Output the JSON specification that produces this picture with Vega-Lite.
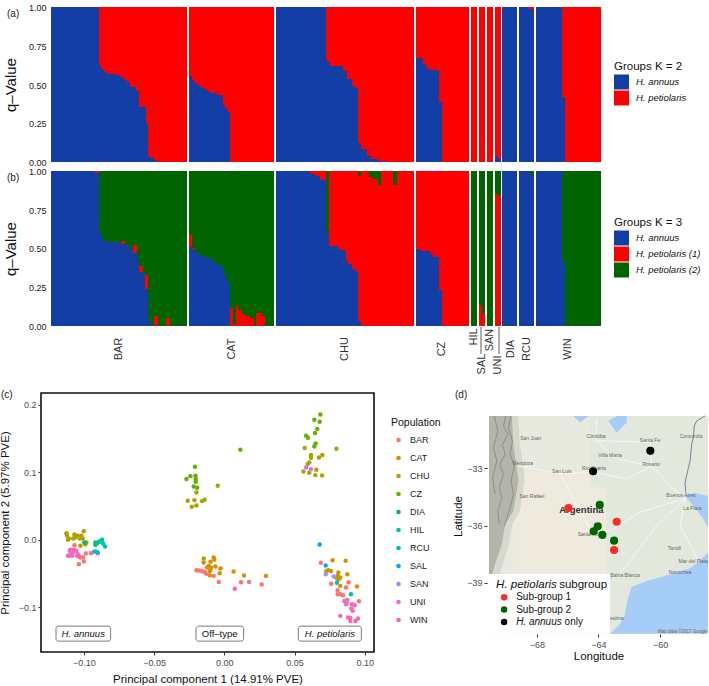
{
"$schema":"https://vega.github.io/schema/vega-lite/v6.json",
"padding":{"left":-2,"top":3,"right":0,"bottom":0},
"bounds":"flush",
"spacing":9,
"resolve":{"scale":{"color":"independent"},"legend":{"color":"independent"}},
"config":{"font":"Liberation Sans","view":{"stroke":null},"axis":{"grid":false,"domain":false,"labelOverlap":false,"labelFont":"Liberation Sans","titleFont":"Liberation Sans","titleFontWeight":"normal"},"legend":{"labelFont":"Liberation Sans","titleFont":"Liberation Sans","titleFontWeight":"normal"},"title":{"font":"Liberation Sans","fontWeight":"normal"},"text":{"font":"Liberation Sans"}},
"datasets":{
"k2":[
{"pop":"BAR","x0":0,"x1":17.6,"q":1},{"pop":"BAR","x0":17.6,"x1":18.3,"q":0.633},{"pop":"BAR","x0":18.3,"x1":19,"q":0.61},{"pop":"BAR","x0":19,"x1":19.8,"q":0.594},{"pop":"BAR","x0":19.8,"x1":20.7,"q":0.579},{"pop":"BAR","x0":20.7,"x1":24.4,"q":0.568},{"pop":"BAR","x0":24.4,"x1":25.7,"q":0.562},{"pop":"BAR","x0":25.7,"x1":26.9,"q":0.546},{"pop":"BAR","x0":26.9,"x1":28.2,"q":0.531},{"pop":"BAR","x0":28.2,"x1":29.4,"q":0.514},{"pop":"BAR","x0":29.4,"x1":31.6,"q":0.486},{"pop":"BAR","x0":31.6,"x1":32.6,"q":0.46},{"pop":"BAR","x0":32.6,"x1":35.1,"q":0.358},{"pop":"BAR","x0":35.1,"x1":36.1,"q":0.244},{"pop":"BAR","x0":36.1,"x1":36.5,"q":0.04},{"pop":"BAR","x0":36.5,"x1":38,"q":0.028},{"pop":"BAR","x0":38,"x1":39.3,"q":0.013},{"pop":"BAR","x0":39.3,"x1":50.3,"q":0},
{"pop":"CAT","x0":51.1,"x1":52.1,"q":0.553},{"pop":"CAT","x0":52.1,"x1":53.1,"q":0.53},{"pop":"CAT","x0":53.1,"x1":54.1,"q":0.51},{"pop":"CAT","x0":54.1,"x1":55.1,"q":0.497},{"pop":"CAT","x0":55.1,"x1":56,"q":0.487},{"pop":"CAT","x0":56,"x1":57,"q":0.475},{"pop":"CAT","x0":57,"x1":58,"q":0.465},{"pop":"CAT","x0":58,"x1":59,"q":0.455},{"pop":"CAT","x0":59,"x1":61.5,"q":0.445},{"pop":"CAT","x0":61.5,"x1":63.7,"q":0.43},{"pop":"CAT","x0":63.7,"x1":64.4,"q":0.37},{"pop":"CAT","x0":64.4,"x1":65.4,"q":0.34},{"pop":"CAT","x0":65.4,"x1":66.3,"q":0.32},{"pop":"CAT","x0":66.3,"x1":82.7,"q":0},
{"pop":"CHU","x0":83.4,"x1":101.7,"q":1},{"pop":"CHU","x0":101.7,"x1":102.3,"q":0.665},{"pop":"CHU","x0":102.3,"x1":103.3,"q":0.644},{"pop":"CHU","x0":103.3,"x1":108.2,"q":0.622},{"pop":"CHU","x0":108.2,"x1":109.5,"q":0.59},{"pop":"CHU","x0":109.5,"x1":111.3,"q":0.536},{"pop":"CHU","x0":111.3,"x1":112.6,"q":0.488},{"pop":"CHU","x0":112.6,"x1":113.7,"q":0.475},{"pop":"CHU","x0":113.7,"x1":114.7,"q":0.121},{"pop":"CHU","x0":114.7,"x1":116.9,"q":0.082},{"pop":"CHU","x0":116.9,"x1":118.7,"q":0.039},{"pop":"CHU","x0":118.7,"x1":121.2,"q":0.022},{"pop":"CHU","x0":121.2,"x1":124.3,"q":0.006},{"pop":"CHU","x0":124.3,"x1":134.5,"q":0},
{"pop":"CZ","x0":135.2,"x1":137.8,"q":0.67},{"pop":"CZ","x0":137.8,"x1":138.8,"q":0.633},{"pop":"CZ","x0":138.8,"x1":140,"q":0.607},{"pop":"CZ","x0":140,"x1":143.8,"q":0.596},{"pop":"CZ","x0":143.8,"x1":144.9,"q":0.389},{"pop":"CZ","x0":144.9,"x1":154.8,"q":0},
{"pop":"HIL","x0":155.4,"x1":157.8,"q":0},{"pop":"SAL","x0":158.5,"x1":160.7,"q":0},{"pop":"SAN","x0":161.5,"x1":163.7,"q":0},
{"pop":"UNI","x0":164.4,"x1":165.4,"q":0.04},{"pop":"UNI","x0":165.4,"x1":166.7,"q":0.02},
{"pop":"DIA","x0":167.2,"x1":172.7,"q":1},
{"pop":"RCU","x0":173.4,"x1":176.8,"q":1},{"pop":"RCU","x0":176.8,"x1":178.9,"q":0.99},
{"pop":"WIN","x0":179.6,"x1":189.4,"q":1},{"pop":"WIN","x0":189.4,"x1":190.5,"q":0.417},{"pop":"WIN","x0":190.5,"x1":203.7,"q":0}
],
"k3":[
{"pop":"BAR","x0":0,"x1":16.4,"b":1,"r":1},{"pop":"BAR","x0":16.4,"x1":17.65,"b":0.985,"r":1},{"pop":"BAR","x0":17.65,"x1":18.3,"b":0.604,"r":0.604},{"pop":"BAR","x0":18.3,"x1":19,"b":0.585,"r":0.585},{"pop":"BAR","x0":19,"x1":19.75,"b":0.563,"r":0.563},{"pop":"BAR","x0":19.75,"x1":20.7,"b":0.548,"r":0.548},{"pop":"BAR","x0":20.7,"x1":25.9,"b":0.542,"r":0.542},{"pop":"BAR","x0":25.9,"x1":27.5,"b":0.529,"r":0.548},{"pop":"BAR","x0":27.5,"x1":28.8,"b":0.52,"r":0.52},{"pop":"BAR","x0":28.8,"x1":30.4,"b":0.499,"r":0.499},{"pop":"BAR","x0":30.4,"x1":31.9,"b":0.471,"r":0.52},{"pop":"BAR","x0":31.9,"x1":32.6,"b":0.424,"r":0.424},{"pop":"BAR","x0":32.6,"x1":34.1,"b":0.348,"r":0.387},{"pop":"BAR","x0":34.1,"x1":34.9,"b":0.338,"r":0.338},{"pop":"BAR","x0":34.9,"x1":36.05,"b":0.241,"r":0.329},{"pop":"BAR","x0":36.05,"x1":36.8,"b":0.037,"r":0.037},{"pop":"BAR","x0":36.8,"x1":38,"b":0.015,"r":0.015},{"pop":"BAR","x0":38,"x1":39.5,"b":0,"r":0.062},{"pop":"BAR","x0":39.5,"x1":42.6,"b":0,"r":0},{"pop":"BAR","x0":42.6,"x1":44,"b":0,"r":0.052},{"pop":"BAR","x0":44,"x1":50.3,"b":0,"r":0},
{"pop":"CAT","x0":51.1,"x1":52.2,"b":0.51,"r":0.59},{"pop":"CAT","x0":52.2,"x1":53.2,"b":0.495,"r":0.505},{"pop":"CAT","x0":53.2,"x1":55.3,"b":0.473,"r":0.473},{"pop":"CAT","x0":55.3,"x1":57.8,"b":0.45,"r":0.45},{"pop":"CAT","x0":57.8,"x1":60.2,"b":0.43,"r":0.43},{"pop":"CAT","x0":60.2,"x1":62.7,"b":0.4,"r":0.4},{"pop":"CAT","x0":62.7,"x1":64.2,"b":0.38,"r":0.38},{"pop":"CAT","x0":64.2,"x1":65.2,"b":0.33,"r":0.33},{"pop":"CAT","x0":65.2,"x1":66.3,"b":0.28,"r":0.28},{"pop":"CAT","x0":66.3,"x1":67.3,"b":0,"r":0.116},{"pop":"CAT","x0":67.3,"x1":68.4,"b":0,"r":0.01},{"pop":"CAT","x0":68.4,"x1":69.4,"b":0,"r":0.135},{"pop":"CAT","x0":69.4,"x1":70.7,"b":0,"r":0.103},{"pop":"CAT","x0":70.7,"x1":72,"b":0,"r":0.08},{"pop":"CAT","x0":72,"x1":73.8,"b":0,"r":0.062},{"pop":"CAT","x0":73.8,"x1":75,"b":0,"r":0.052},{"pop":"CAT","x0":75,"x1":76,"b":0,"r":0},{"pop":"CAT","x0":76,"x1":78.1,"b":0,"r":0.086},{"pop":"CAT","x0":78.1,"x1":79.4,"b":0,"r":0.062},{"pop":"CAT","x0":79.4,"x1":82.7,"b":0,"r":0},
{"pop":"CHU","x0":83.4,"x1":95.9,"b":1,"r":1},{"pop":"CHU","x0":95.9,"x1":97.8,"b":0.983,"r":1},{"pop":"CHU","x0":97.8,"x1":99.6,"b":0.966,"r":1},{"pop":"CHU","x0":99.6,"x1":101.7,"b":0.944,"r":1},{"pop":"CHU","x0":101.7,"x1":102.9,"b":0.602,"r":0.602},{"pop":"CHU","x0":102.9,"x1":106.4,"b":0.514,"r":1},{"pop":"CHU","x0":106.4,"x1":107.6,"b":0.499,"r":1},{"pop":"CHU","x0":107.6,"x1":109.1,"b":0.482,"r":1},{"pop":"CHU","x0":109.1,"x1":110.1,"b":0.42,"r":1},{"pop":"CHU","x0":110.1,"x1":111.3,"b":0.402,"r":1},{"pop":"CHU","x0":111.3,"x1":112.6,"b":0.37,"r":1},{"pop":"CHU","x0":112.6,"x1":113.7,"b":0.355,"r":1},{"pop":"CHU","x0":113.7,"x1":114.7,"b":0.032,"r":0.97},{"pop":"CHU","x0":114.7,"x1":117.9,"b":0,"r":1},{"pop":"CHU","x0":117.9,"x1":119.1,"b":0,"r":0.961},{"pop":"CHU","x0":119.1,"x1":121,"b":0,"r":0.95},{"pop":"CHU","x0":121,"x1":122.4,"b":0,"r":0.912},{"pop":"CHU","x0":122.4,"x1":126.8,"b":0,"r":1},{"pop":"CHU","x0":126.8,"x1":128,"b":0,"r":0.908},{"pop":"CHU","x0":128,"x1":134.5,"b":0,"r":1},
{"pop":"CZ","x0":135.2,"x1":136.9,"b":0.497,"r":1},{"pop":"CZ","x0":136.9,"x1":140.3,"b":0.484,"r":1},{"pop":"CZ","x0":140.3,"x1":141.6,"b":0.462,"r":1},{"pop":"CZ","x0":141.6,"x1":143.8,"b":0.445,"r":1},{"pop":"CZ","x0":143.8,"x1":144.9,"b":0.23,"r":1},{"pop":"CZ","x0":144.9,"x1":154.8,"b":0,"r":1},
{"pop":"HIL","x0":155.4,"x1":157.8,"b":0,"r":0},
{"pop":"SAL","x0":158.5,"x1":159.5,"b":0,"r":0.133},{"pop":"SAL","x0":159.5,"x1":160.7,"b":0,"r":0.075},
{"pop":"SAN","x0":161.5,"x1":163.7,"b":0,"r":0},
{"pop":"UNI","x0":164.4,"x1":165.4,"b":0,"r":0.854},{"pop":"UNI","x0":165.4,"x1":166.7,"b":0,"r":0.837},
{"pop":"DIA","x0":167.2,"x1":172.7,"b":1,"r":1},
{"pop":"RCU","x0":173.4,"x1":176.8,"b":1,"r":1},{"pop":"RCU","x0":176.8,"x1":178.3,"b":0.987,"r":0.987},{"pop":"RCU","x0":178.3,"x1":178.9,"b":0.96,"r":0.96},
{"pop":"WIN","x0":179.6,"x1":189.4,"b":1,"r":1},{"pop":"WIN","x0":189.4,"x1":190.5,"b":0.413,"r":0.413},{"pop":"WIN","x0":190.5,"x1":203.7,"b":0,"r":0}
],
"poplabels":[
{"pop":"BAR","xc":25.2,"yc":-0.148},{"pop":"CAT","xc":66.9,"yc":-0.148},{"pop":"CHU","xc":108.9,"yc":-0.148},{"pop":"CZ","xc":144.9,"yc":-0.148},{"pop":"HIL","xc":156.8,"yc":-0.071},{"pop":"SAL","xc":159.8,"yc":-0.245},{"pop":"SAN","xc":162.6,"yc":-0.09},{"pop":"UNI","xc":165.6,"yc":-0.252},{"pop":"DIA","xc":170.2,"yc":-0.148},{"pop":"RCU","xc":176.2,"yc":-0.148},{"pop":"WIN","xc":191.6,"yc":-0.148}
],
"poplinks":[{"pop":"SAL","xc":159.4,"y0":-0.006,"y1":-0.18},{"pop":"UNI","xc":165.9,"y0":-0.006,"y1":-0.18}],
"pca":[
{"pop":"CHU","pc1":-0.1125,"pc2":0.0098},{"pop":"CHU","pc1":-0.112,"pc2":0.0058},{"pop":"CHU","pc1":-0.1113,"pc2":-0.0001},{"pop":"CHU","pc1":-0.1108,"pc2":0.0019},{"pop":"CHU","pc1":-0.1077,"pc2":0.0019},{"pop":"CHU","pc1":-0.1068,"pc2":0.0078},{"pop":"CHU","pc1":-0.1061,"pc2":0.0034},{"pop":"CHU","pc1":-0.1044,"pc2":0.0058},{"pop":"CHU","pc1":-0.103,"pc2":0.0019},{"pop":"CHU","pc1":-0.1018,"pc2":0.0058},{"pop":"CHU","pc1":-0.1001,"pc2":0.0127},{"pop":"CHU","pc1":-0.1009,"pc2":0.0019},{"pop":"CHU","pc1":-0.1025,"pc2":-0.009},{"pop":"CHU","pc1":-0.099,"pc2":-0.0065},{"pop":"CHU","pc1":-0.0983,"pc2":-0.0041},
{"pop":"BAR","pc1":-0.1068,"pc2":-0.008},{"pop":"BAR","pc1":-0.1025,"pc2":-0.0263},{"pop":"BAR","pc1":-0.1006,"pc2":-0.0263},{"pop":"BAR","pc1":-0.1001,"pc2":-0.0322},{"pop":"BAR","pc1":-0.1037,"pc2":-0.0362},{"pop":"BAR","pc1":-0.0987,"pc2":-0.0204},{"pop":"BAR","pc1":-0.0949,"pc2":-0.0199},{"pop":"BAR","pc1":-0.0902,"pc2":-0.0199},{"pop":"BAR","pc1":-0.1049,"pc2":-0.0238},
{"pop":"WIN","pc1":-0.1101,"pc2":-0.0164},{"pop":"WIN","pc1":-0.1092,"pc2":-0.0199},{"pop":"WIN","pc1":-0.1085,"pc2":-0.0238},{"pop":"WIN","pc1":-0.1108,"pc2":-0.0238},{"pop":"WIN","pc1":-0.1073,"pc2":-0.0149},{"pop":"WIN","pc1":-0.1054,"pc2":-0.0164},{"pop":"WIN","pc1":-0.1044,"pc2":-0.0214},{"pop":"WIN","pc1":-0.1078,"pc2":-0.0189},{"pop":"WIN","pc1":-0.1037,"pc2":-0.0248},{"pop":"WIN","pc1":-0.1096,"pc2":-0.0149},{"pop":"WIN","pc1":-0.1113,"pc2":-0.0238},{"pop":"UNI","pc1":-0.1092,"pc2":-0.0189},
{"pop":"DIA","pc1":-0.0997,"pc2":-0.0041},{"pop":"DIA","pc1":-0.0918,"pc2":-0.0041},{"pop":"DIA","pc1":-0.0918,"pc2":-0.0075},{"pop":"DIA","pc1":-0.0907,"pc2":-0.005},{"pop":"DIA","pc1":-0.0892,"pc2":-0.0031},
{"pop":"HIL","pc1":-0.0883,"pc2":-0.0021},{"pop":"HIL","pc1":-0.0871,"pc2":-0.0001},{"pop":"HIL","pc1":-0.0864,"pc2":-0.0055},{"pop":"HIL","pc1":-0.085,"pc2":-0.01},{"pop":"HIL","pc1":-0.0911,"pc2":-0.0055},
{"pop":"RCU","pc1":-0.0926,"pc2":-0.0174},{"pop":"RCU","pc1":-0.0911,"pc2":-0.0179},{"pop":"RCU","pc1":-0.0902,"pc2":-0.0189},
{"pop":"CZ","pc1":-0.0209,"pc2":0.1081},{"pop":"CZ","pc1":-0.027,"pc2":0.0898},{"pop":"CZ","pc1":-0.0242,"pc2":0.0942},{"pop":"CZ","pc1":-0.0206,"pc2":0.0947},{"pop":"CZ","pc1":-0.0204,"pc2":0.0898},{"pop":"CZ","pc1":-0.0204,"pc2":0.0858},{"pop":"CZ","pc1":-0.0218,"pc2":0.0789},{"pop":"CZ","pc1":-0.0194,"pc2":0.077},
{"pop":"CHU","pc1":-0.0199,"pc2":0.07},{"pop":"CHU","pc1":-0.0261,"pc2":0.0577},{"pop":"CHU","pc1":-0.0213,"pc2":0.0587},{"pop":"CHU","pc1":-0.0232,"pc2":0.0488},{"pop":"CHU","pc1":-0.0199,"pc2":0.0508},{"pop":"CHU","pc1":-0.0159,"pc2":0.0572},{"pop":"CHU","pc1":-0.014,"pc2":0.0592},{"pop":"CHU","pc1":-0.0047,"pc2":0.0799},{"pop":"CHU","pc1":-0.0147,"pc2":-0.0278},
{"pop":"BAR","pc1":-0.0199,"pc2":-0.0451},{"pop":"BAR","pc1":-0.018,"pc2":-0.0456},{"pop":"BAR","pc1":-0.0159,"pc2":-0.0465},{"pop":"BAR","pc1":-0.0142,"pc2":-0.0475},{"pop":"BAR","pc1":-0.013,"pc2":-0.0505},{"pop":"BAR","pc1":-0.0076,"pc2":-0.0535},{"pop":"BAR","pc1":-0.004,"pc2":-0.0624},{"pop":"BAR","pc1":-0.0099,"pc2":-0.0446},
{"pop":"CAT","pc1":-0.0076,"pc2":-0.0263},{"pop":"CAT","pc1":-0.0099,"pc2":-0.0327},{"pop":"CAT","pc1":-0.0071,"pc2":-0.0297},{"pop":"CAT","pc1":-0.0111,"pc2":-0.0387},{"pop":"CAT","pc1":-0.0123,"pc2":-0.0411},{"pop":"CAT","pc1":-0.0147,"pc2":-0.0337},{"pop":"CAT","pc1":-0.0104,"pc2":-0.0461},{"pop":"CAT","pc1":-0.0028,"pc2":-0.0426},{"pop":"CAT","pc1":-0.0033,"pc2":-0.0495},{"pop":"CAT","pc1":-0.0104,"pc2":-0.0525},{"pop":"CAT","pc1":-0.0064,"pc2":-0.0396},{"pop":"CAT","pc1":-0.0095,"pc2":-0.0411},
{"pop":"CAT","pc1":0.0066,"pc2":-0.047},{"pop":"CAT","pc1":0.014,"pc2":-0.053},{"pop":"CAT","pc1":0.0297,"pc2":-0.0535},{"pop":"BAR","pc1":0.0119,"pc2":-0.0628},{"pop":"BAR","pc1":0.0176,"pc2":-0.0624},{"pop":"BAR","pc1":0.0266,"pc2":-0.0663},{"pop":"WIN","pc1":0.0074,"pc2":-0.0727},{"pop":"CZ","pc1":0.0114,"pc2":0.1333},
{"pop":"CZ","pc1":0.0684,"pc2":0.1856},{"pop":"CZ","pc1":0.0641,"pc2":0.1777},{"pop":"CZ","pc1":0.0679,"pc2":0.1748},{"pop":"CZ","pc1":0.0662,"pc2":0.1639},{"pop":"CZ","pc1":0.0646,"pc2":0.158},{"pop":"CZ","pc1":0.0582,"pc2":0.154},{"pop":"CZ","pc1":0.0596,"pc2":0.1511},{"pop":"CZ","pc1":0.065,"pc2":0.1427},{"pop":"CZ","pc1":0.0641,"pc2":0.1382},
{"pop":"CHU","pc1":0.0572,"pc2":0.1357},{"pop":"CHU","pc1":0.0798,"pc2":0.1348},{"pop":"CHU","pc1":0.0617,"pc2":0.1254},{"pop":"CHU","pc1":0.0617,"pc2":0.1214},{"pop":"CHU","pc1":0.0674,"pc2":0.1219},{"pop":"CHU","pc1":0.0698,"pc2":0.1254},{"pop":"CHU","pc1":0.0605,"pc2":0.1145},{"pop":"CHU","pc1":0.0593,"pc2":0.112},{"pop":"CHU","pc1":0.0563,"pc2":0.1012},{"pop":"CHU","pc1":0.0605,"pc2":0.0992},{"pop":"CHU","pc1":0.0655,"pc2":0.1036},{"pop":"CHU","pc1":0.0648,"pc2":0.0957},{"pop":"CHU","pc1":0.0696,"pc2":0.0952},
{"pop":"UNI","pc1":0.0582,"pc2":0.1071},{"pop":"UNI","pc1":0.0617,"pc2":0.1046},
{"pop":"SAL","pc1":0.0679,"pc2":-0.007},{"pop":"SAL","pc1":0.0722,"pc2":-0.0381},
{"pop":"BAR","pc1":0.0688,"pc2":-0.0342},{"pop":"BAR","pc1":0.0762,"pc2":-0.0653},{"pop":"BAR","pc1":0.0807,"pc2":-0.0747},{"pop":"BAR","pc1":0.0807,"pc2":-0.0806},{"pop":"BAR","pc1":0.0826,"pc2":-0.0806},{"pop":"BAR","pc1":0.0845,"pc2":-0.0821},{"pop":"BAR","pc1":0.0866,"pc2":-0.0708},{"pop":"BAR","pc1":0.0885,"pc2":-0.0628},{"pop":"BAR","pc1":0.0876,"pc2":-0.089},{"pop":"BAR","pc1":0.0959,"pc2":-0.091},
{"pop":"CAT","pc1":0.0771,"pc2":-0.0302},{"pop":"CAT","pc1":0.0864,"pc2":-0.0312},{"pop":"CAT","pc1":0.0741,"pc2":-0.0451},{"pop":"CAT","pc1":0.076,"pc2":-0.0461},{"pop":"CAT","pc1":0.0812,"pc2":-0.0485},{"pop":"CAT","pc1":0.0876,"pc2":-0.051},{"pop":"CAT","pc1":0.0802,"pc2":-0.0559},{"pop":"CAT","pc1":0.0814,"pc2":-0.0584},{"pop":"CAT","pc1":0.0826,"pc2":-0.0559},{"pop":"CAT","pc1":0.0826,"pc2":-0.0683},{"pop":"CAT","pc1":0.0945,"pc2":-0.0693},
{"pop":"CHU","pc1":0.0726,"pc2":-0.0461},{"pop":"CHU","pc1":0.0807,"pc2":-0.0535},{"pop":"CHU","pc1":0.0802,"pc2":-0.0569},
{"pop":"SAN","pc1":0.0722,"pc2":-0.051},{"pop":"SAN","pc1":0.0779,"pc2":-0.0544},
{"pop":"HIL","pc1":0.0802,"pc2":-0.0638},{"pop":"HIL","pc1":0.0902,"pc2":-0.0806},
{"pop":"WIN","pc1":0.0855,"pc2":-0.0905},{"pop":"WIN","pc1":0.0866,"pc2":-0.0955},{"pop":"WIN","pc1":0.0909,"pc2":-0.0955},{"pop":"WIN","pc1":0.0928,"pc2":-0.0969},{"pop":"WIN","pc1":0.0904,"pc2":-0.1019},{"pop":"WIN","pc1":0.0914,"pc2":-0.1053},{"pop":"WIN","pc1":0.0826,"pc2":-0.1127},{"pop":"WIN","pc1":0.0881,"pc2":-0.1152},{"pop":"WIN","pc1":0.0897,"pc2":-0.1157},{"pop":"WIN","pc1":0.0897,"pc2":-0.1202},{"pop":"WIN","pc1":0.0933,"pc2":-0.1202},{"pop":"WIN","pc1":0.0952,"pc2":-0.1167},{"pop":"UNI","pc1":0.0874,"pc2":-0.092}
],
"pcaboxes":[
{"label":"H. annuus","x0":-0.1199,"x1":-0.081,"xc":-0.1005,"y0":-0.1279,"y1":-0.1501,"yc":-0.139,"it":1},
{"label":"Off–type","x0":-0.0202,"x1":0.0137,"xc":-0.0033,"y0":-0.1279,"y1":-0.1501,"yc":-0.139,"it":0},
{"label":"H. petiolaris","x0":0.0527,"x1":0.0976,"xc":0.0752,"y0":-0.1279,"y1":-0.1501,"yc":-0.139,"it":1}
],
"land":[{"lon0":-71.1,"lon1":-56.9,"lat0":-41.67,"lat1":-30.26}],
"patches":[{"lon0":-69.5,"lon1":-64.5,"lat0":-41.67,"lat1":-33.2},{"lon0":-68.5,"lon1":-63.5,"lat0":-38.8,"lat1":-34}],
"east":[{"lon0":-64.5,"lon1":-56.9,"lat0":-41.67,"lat1":-30.26}],
"andes":[
{"lat":-30.26,"lonW":-71.1,"lonE":-69.62},{"lat":-31.74,"lonW":-71.1,"lonE":-69.52},{"lat":-32.97,"lonW":-71.1,"lonE":-69.3},{"lat":-33.67,"lonW":-71.1,"lonE":-69.19},{"lat":-35.24,"lonW":-71.1,"lonE":-69.52},{"lat":-35.93,"lonW":-71.1,"lonE":-70.05},{"lat":-36.96,"lonW":-71.1,"lonE":-70.27},{"lat":-38,"lonW":-71.1,"lonE":-70.7},{"lat":-38.53,"lonW":-71.1,"lonE":-70.9}
],
"foothills":[
{"lat":-30.26,"lonW":-71.1,"lonE":-69.2},{"lat":-31.74,"lonW":-71.1,"lonE":-69.1},{"lat":-32.97,"lonW":-71.1,"lonE":-68.85},{"lat":-33.67,"lonW":-71.1,"lonE":-68.8},{"lat":-35.24,"lonW":-71.1,"lonE":-69.1},{"lat":-35.93,"lonW":-71.1,"lonE":-69.6},{"lat":-36.96,"lonW":-71.1,"lonE":-69.8},{"lat":-38,"lonW":-71.1,"lonE":-70.2},{"lat":-38.53,"lonW":-71.1,"lonE":-70.4}
],
"water":[
{"id":"ocean","lon":-63.25,"latTop":-41.67,"latBot":-41.67},{"id":"ocean","lon":-62.6,"latTop":-41.15,"latBot":-41.67},{"id":"ocean","lon":-62.3,"latTop":-40.7,"latBot":-41.67},{"id":"ocean","lon":-62.15,"latTop":-40,"latBot":-41.67},{"id":"ocean","lon":-61.84,"latTop":-39.2,"latBot":-41.67},{"id":"ocean","lon":-60.77,"latTop":-38.88,"latBot":-41.67},{"id":"ocean","lon":-59.25,"latTop":-38.53,"latBot":-41.67},{"id":"ocean","lon":-58.17,"latTop":-38.27,"latBot":-41.67},{"id":"ocean","lon":-57.53,"latTop":-37.92,"latBot":-41.67},{"id":"ocean","lon":-56.9,"latTop":-37.4,"latBot":-41.67},
{"id":"plata","lon":-58.4,"latTop":-34.4,"latBot":-34.45},{"id":"plata","lon":-57.8,"latTop":-34.3,"latBot":-35},{"id":"plata","lon":-57.2,"latTop":-34.4,"latBot":-35.67},{"id":"plata","lon":-56.9,"latTop":-34.45,"latBot":-36.1},
{"id":"chiquita","lon":-63.36,"latTop":-30.52,"latBot":-30.52},{"id":"chiquita","lon":-62.82,"latTop":-30.26,"latBot":-31.14},{"id":"chiquita","lon":-62.17,"latTop":-30.26,"latBot":-30.6},
{"id":"lake2","lon":-65.63,"latTop":-30.26,"latBot":-30.26},{"id":"lake2","lon":-65.2,"latTop":-30.26,"latBot":-30.61},{"id":"lake2","lon":-64.66,"latTop":-30.26,"latBot":-30.28}
],
"ridges":[
{"id":"a","lon":-70.01,"lat":-30.26},{"id":"a","lon":-70.16,"lat":-30.79},{"id":"a","lon":-69.88,"lat":-31.22},{"id":"a","lon":-70.23,"lat":-31.75},{"id":"a","lon":-70.05,"lat":-32.27},{"id":"a","lon":-70.38,"lat":-32.79},{"id":"a","lon":-70.16,"lat":-33.32},{"id":"a","lon":-70.44,"lat":-34.01},{"id":"a","lon":-70.27,"lat":-34.54},{"id":"a","lon":-70.53,"lat":-35.24},{"id":"a","lon":-70.44,"lat":-35.93},
{"id":"b","lon":-69.67,"lat":-30.26},{"id":"b","lon":-69.84,"lat":-30.87},{"id":"b","lon":-69.58,"lat":-31.57},{"id":"b","lon":-69.73,"lat":-32.27},{"id":"b","lon":-69.45,"lat":-32.88},{"id":"b","lon":-69.67,"lat":-33.66},{"id":"b","lon":-69.51,"lat":-34.36},{"id":"b","lon":-69.79,"lat":-35.24},{"id":"b","lon":-70.1,"lat":-36.02},
{"id":"c","lon":-70.75,"lat":-30.26},{"id":"c","lon":-70.53,"lat":-31.05},{"id":"c","lon":-70.81,"lat":-31.92},{"id":"c","lon":-70.59,"lat":-32.62},{"id":"c","lon":-70.87,"lat":-33.49},{"id":"c","lon":-70.7,"lat":-34.36}
],
"river":[{"lon":-57.09,"lat":-30.26},{"lon":-57.63,"lat":-30.52},{"lon":-57.79,"lat":-30.79},{"lon":-57.85,"lat":-31.4},{"lon":-57.96,"lat":-31.74},{"lon":-58.06,"lat":-32.62},{"lon":-58.17,"lat":-32.97},{"lon":-58.39,"lat":-33.75},{"lon":-58.34,"lat":-34.28}],
"roads":[
{"id":"r1","lon":-64.16,"lat":-31.55},{"id":"r1","lon":-62.82,"lat":-32.51},{"id":"r1","lon":-60.55,"lat":-32.89},{"id":"r1","lon":-59.15,"lat":-34.08},{"id":"r1","lon":-58.35,"lat":-34.57},
{"id":"r2","lon":-69.19,"lat":-32.89},{"id":"r2","lon":-66.49,"lat":-33.29},{"id":"r2","lon":-64.33,"lat":-33.21},{"id":"r2","lon":-62.17,"lat":-33.56},{"id":"r2","lon":-60.55,"lat":-32.89},
{"id":"r3","lon":-58.35,"lat":-34.57},{"id":"r3","lon":-61.31,"lat":-35.3},{"id":"r3","lon":-63.04,"lat":-36.17},{"id":"r3","lon":-64.29,"lat":-36.52},
{"id":"r4","lon":-58.35,"lat":-34.57},{"id":"r4","lon":-60.23,"lat":-36},{"id":"r4","lon":-62.17,"lat":-38.09},{"id":"r4","lon":-62.82,"lat":-38.62},
{"id":"r5","lon":-58.35,"lat":-34.57},{"id":"r5","lon":-58.72,"lat":-36},{"id":"r5","lon":-57.53,"lat":-37.83},
{"id":"r6","lon":-60.55,"lat":-32.89},{"id":"r6","lon":-60.66,"lat":-31.64},
{"id":"r7","lon":-64.16,"lat":-31.55},{"id":"r7","lon":-64.12,"lat":-30.41},
{"id":"r8","lon":-66.49,"lat":-33.29},{"id":"r8","lon":-64.29,"lat":-36.52},
{"id":"r9","lon":-64.16,"lat":-31.55},{"id":"r9","lon":-60.66,"lat":-31.64}
],
"places":[
{"name":"Córdoba","lon":-64.16,"lat":-31.29},{"name":"Santa Fe","lon":-60.66,"lat":-31.52},{"name":"Rosario","lon":-60.59,"lat":-32.77},{"name":"Villa María","lon":-63.25,"lat":-32.3},{"name":"San Juan","lon":-68.39,"lat":-31.43},{"name":"Mendoza","lon":-68.91,"lat":-32.74},{"name":"San Luis","lon":-66.38,"lat":-33.16},{"name":"Río Cuarto","lon":-64.29,"lat":-32.97},{"name":"San Rafael","lon":-68.32,"lat":-34.43},{"name":"Buenos Aires","lon":-58.65,"lat":-34.38},{"name":"La Plata","lon":-57.92,"lat":-35.08},{"name":"Concordia","lon":-58,"lat":-31.29},{"name":"Santa Rosa","lon":-64.5,"lat":-36.46},{"name":"Tandil","lon":-59.08,"lat":-37.19},{"name":"Mar del Plata","lon":-57.85,"lat":-37.84},{"name":"Necochea","lon":-58.71,"lat":-38.45},{"name":"Bahía Blanca","lon":-62.28,"lat":-38.59},{"name":"Viedma","lon":-62.93,"lat":-40.85}
],
"sites":[
{"group":"Sub-group 1","lon":-65.95,"lat":-35.09},{"group":"Sub-group 1","lon":-62.82,"lat":-35.8},{"group":"Sub-group 1","lon":-62.99,"lat":-37.28},
{"group":"Sub-group 2","lon":-63.92,"lat":-34.92},{"group":"Sub-group 2","lon":-64.05,"lat":-36.04},{"group":"Sub-group 2","lon":-64.31,"lat":-36.3},{"group":"Sub-group 2","lon":-63.75,"lat":-36.49},{"group":"Sub-group 2","lon":-62.99,"lat":-36.79},
{"group":"H. annuus only","lon":-60.64,"lat":-32.09},{"group":"H. annuus only","lon":-64.35,"lat":-33.16}
],
"keypts":[{"group":"Sub-group 1","lon":-70.12,"lat":-39.75},{"group":"Sub-group 2","lon":-70.12,"lat":-40.4},{"group":"H. annuus only","lon":-70.12,"lat":-41.05}],
"keytext":[{"label":"Sub-group 1","lon":-69.34,"lat":-39.75},{"label":"Sub-group 2","lon":-69.34,"lat":-40.4},{"label":"only","lon":-66.2,"lat":-41.05}],
"keyitalic":[{"label":"H. annuus","lon":-69.34,"lat":-41.05}],
"keybox":[{"lon0":-71.1,"lon1":-63.25,"lat0":-41.67,"lat1":-38.53}]
},
"vconcat":[
{"width":560,"height":155,"data":{"name":"k2"},
"view":{"stroke":null},
"title":{"text":"(a)","anchor":"start","frame":"group","dx":-34,"dy":20,"fontSize":10,"color":"#1a1a1a"},
"transform":[{"calculate":"0","as":"base"},{"calculate":"1","as":"top"}],
"encoding":{"x":{"field":"x0","type":"quantitative","scale":{"domain":[-3.704,203.7],"round":true},"axis":null},"x2":{"field":"x1"}},
"layer":[
{"transform":[{"filter":"datum.q>0"}],"mark":{"type":"rect"},
"encoding":{"y":{"field":"base","type":"quantitative","scale":{"domain":[0,1],"round":true},"axis":{"title":"q–Value","values":[0,0.25,0.5,0.75,1],"tickCount":5,"format":".2f","offset":-10,"tickSize":0,"labelPadding":5,"labelFontSize":9,"labelColor":"#222","titleFontSize":15,"titleColor":"#111","titleX":-33}},"y2":{"field":"q"},
"color":{"datum":"H. annuus","type":"nominal","scale":{"domain":["H. annuus","H. petiolaris"],"range":["#133EA6","#FF0000"]},"legend":{"title":"Groups K = 2","orient":"none","legendX":573,"legendY":54,"titlePadding":2,"symbolType":"square","symbolSize":225,"symbolStrokeWidth":0,"labelFontStyle":"italic","labelFontSize":9.5,"labelColor":"#111","titleFontSize":11.5,"titleColor":"#111","rowPadding":1,"labelOffset":7}}}},
{"transform":[{"filter":"datum.q<1"}],"mark":{"type":"rect"},
"encoding":{"y":{"field":"q","type":"quantitative","scale":{"domain":[0,1],"round":true}},"y2":{"field":"top"},
"color":{"datum":"H. petiolaris","type":"nominal"}}}
]},
{"width":560,"height":213,
"view":{"stroke":null},
"title":{"text":"(b)","anchor":"start","frame":"group","dx":-34,"dy":20,"fontSize":10,"color":"#1a1a1a"},
"layer":[
{"data":{"name":"k3"},"transform":[{"filter":"datum.b>0"},{"calculate":"0","as":"base"}],"mark":{"type":"rect"},
"encoding":{"x":{"field":"x0","type":"quantitative","scale":{"domain":[-3.704,203.7],"round":true},"axis":null},"x2":{"field":"x1"},"y":{"field":"base","type":"quantitative","scale":{"domain":[-0.3742,1],"round":true},"axis":{"title":"q–Value","values":[0,0.25,0.5,0.75,1],"tickCount":5,"format":".2f","offset":-10,"tickSize":0,"labelPadding":5,"labelFontSize":9,"labelColor":"#222","titleFontSize":15,"titleColor":"#111","titleX":-33,"titleY":77.5}},"y2":{"field":"b"},
"color":{"datum":"H. annuus","type":"nominal","scale":{"domain":["H. annuus","H. petiolaris (1)","H. petiolaris (2)"],"range":["#133EA6","#FF0000","#006400"]},"legend":{"title":"Groups K = 3","orient":"none","legendX":573,"legendY":46,"titlePadding":2,"symbolType":"square","symbolSize":225,"symbolStrokeWidth":0,"labelFontStyle":"italic","labelFontSize":9.5,"labelColor":"#111","titleFontSize":11.5,"titleColor":"#111","rowPadding":1,"labelOffset":7}}}},
{"data":{"name":"k3"},"transform":[{"filter":"datum.r<1"},{"calculate":"1","as":"top"}],"mark":{"type":"rect"},
"encoding":{"x":{"field":"x0","type":"quantitative","scale":{"domain":[-3.704,203.7],"round":true}},"x2":{"field":"x1"},"y":{"field":"r","type":"quantitative","scale":{"domain":[-0.3742,1],"round":true}},"y2":{"field":"top"},"color":{"datum":"H. petiolaris (2)","type":"nominal"}}},
{"data":{"name":"k3"},"transform":[{"filter":"datum.r>datum.b"}],"mark":{"type":"rect"},
"encoding":{"x":{"field":"x0","type":"quantitative","scale":{"domain":[-3.704,203.7],"round":true}},"x2":{"field":"x1"},"y":{"field":"b","type":"quantitative","scale":{"domain":[-0.3742,1],"round":true}},"y2":{"field":"r"},"color":{"datum":"H. petiolaris (1)","type":"nominal"}}},
{"data":{"name":"poplinks"},"mark":{"type":"rule","color":"#333","strokeWidth":0.8},
"encoding":{"x":{"field":"xc","type":"quantitative","scale":{"domain":[-3.704,203.7],"round":true}},"y":{"field":"y0","type":"quantitative","scale":{"domain":[-0.3742,1],"round":true}},"y2":{"field":"y1"}}},
{"data":{"name":"poplabels"},"mark":{"type":"text","angle":270,"align":"center","baseline":"middle","fontSize":11,"color":"#333"},
"encoding":{"x":{"field":"xc","type":"quantitative","scale":{"domain":[-3.704,203.7],"round":true}},"y":{"field":"yc","type":"quantitative","scale":{"domain":[-0.3742,1],"round":true}},"text":{"field":"pop"}}}
]},
{"bounds":"flush","spacing":115,"resolve":{"scale":{"color":"independent"},"legend":{"color":"independent"}},"hconcat":[
{"width":333,"height":259,
"view":{"stroke":"#111","strokeWidth":1.6},
"title":{"text":"(c)","anchor":"start","frame":"group","dx":-40,"dy":11,"fontSize":10,"color":"#1a1a1a"},
"layer":[
{"data":{"name":"pca"},"mark":{"type":"circle","size":20,"opacity":1},
"encoding":{"x":{"field":"pc1","type":"quantitative","scale":{"domain":[-0.1306,0.1066]},"axis":{"title":"Principal component 1 (14.91% PVE)","values":[-0.1,-0.05,0,0.05,0.1],"format":".2f","tickSize":3,"tickColor":"#333","labelPadding":3,"labelFontSize":9,"labelColor":"#4d4d4d","titleFontSize":11.5,"titleColor":"#111","titleY":21}},
"y":{"field":"pc2","type":"quantitative","scale":{"domain":[-0.1662,0.2173]},"axis":{"title":"Principal component 2 (5.97% PVE)","values":[-0.1,0,0.1,0.2],"format":".1f","tickSize":3,"tickColor":"#333","labelPadding":2,"labelFontSize":9,"labelColor":"#4d4d4d","titleFontSize":11.5,"titleColor":"#111","titleX":-31}},
"color":{"field":"pop","type":"nominal","scale":{"domain":["BAR","CAT","CHU","CZ","DIA","HIL","RCU","SAL","SAN","UNI","WIN"],"range":["#F8766D","#DB8E00","#AEA200","#64B200","#00BD5C","#00C1A7","#00BADE","#00A6FF","#B385FF","#EF67EB","#FF63B6"]},
"legend":{"title":"Population","orient":"none","legendX":350,"legendY":25,"titlePadding":7,"symbolType":"circle","symbolSize":22,"symbolStrokeWidth":0,"symbolOpacity":1,"labelFontSize":9,"labelColor":"#222","titleFontSize":10.5,"titleColor":"#111","rowPadding":8,"symbolOffset":3,"labelOffset":7}}}},
{"data":{"name":"pcaboxes"},"mark":{"type":"rect","fill":"#fff","stroke":"#444","strokeWidth":0.7,"cornerRadius":2.5},
"encoding":{"x":{"field":"x0","type":"quantitative","scale":{"domain":[-0.1306,0.1066]}},"x2":{"field":"x1"},"y":{"field":"y0","type":"quantitative","scale":{"domain":[-0.1662,0.2173]}},"y2":{"field":"y1"}}},
{"data":{"name":"pcaboxes"},"transform":[{"filter":"datum.it==1"}],"mark":{"type":"text","fontSize":9.5,"fontStyle":"italic","color":"#111"},
"encoding":{"x":{"field":"xc","type":"quantitative","scale":{"domain":[-0.1306,0.1066]}},"y":{"field":"yc","type":"quantitative","scale":{"domain":[-0.1662,0.2173]}},"text":{"field":"label"}}},
{"data":{"name":"pcaboxes"},"transform":[{"filter":"datum.it==0"}],"mark":{"type":"text","fontSize":9.5,"color":"#111"},
"encoding":{"x":{"field":"xc","type":"quantitative","scale":{"domain":[-0.1306,0.1066]}},"y":{"field":"yc","type":"quantitative","scale":{"domain":[-0.1662,0.2173]}},"text":{"field":"label"}}}
]},
{"width":219,"height":259,
"view":{"stroke":null},
"title":{"text":"(d)","anchor":"start","frame":"group","dx":-34,"dy":11,"fontSize":10,"color":"#1a1a1a"},
"layer":[
{"data":{"name":"land"},"mark":{"type":"rect","color":"#E8EADF"},
"encoding":{"x":{"field":"lon0","type":"quantitative","scale":{"domain":[-71.1,-56.9]},"axis":{"title":"Longitude","values":[-68,-64,-60],"format":"d","offset":-18,"tickSize":3,"tickColor":"#333","labelPadding":3,"labelFontSize":9,"labelColor":"#4d4d4d","titleFontSize":11.5,"titleColor":"#111","titleY":16}},"x2":{"field":"lon1"},
"y":{"field":"lat0","type":"quantitative","scale":{"domain":[-42.62,-29.06]},"axis":{"title":"Latitude","values":[-33,-36,-39],"format":"d","offset":2,"tickSize":3,"tickColor":"#333","labelPadding":2,"labelFontSize":9,"labelColor":"#4d4d4d","titleFontSize":11.5,"titleColor":"#111","titleX":-24,"titleY":123}},"y2":{"field":"lat1"}}},
{"data":{"name":"east"},"mark":{"type":"rect","color":"#E2E9DC"},
"encoding":{"x":{"field":"lon0","type":"quantitative","scale":{"domain":[-71.1,-56.9]}},"x2":{"field":"lon1"},"y":{"field":"lat0","type":"quantitative","scale":{"domain":[-42.62,-29.06]}},"y2":{"field":"lat1"}}},
{"data":{"name":"patches"},"mark":{"type":"rect","color":"#EEEADD"},
"encoding":{"x":{"field":"lon0","type":"quantitative","scale":{"domain":[-71.1,-56.9]}},"x2":{"field":"lon1"},"y":{"field":"lat0","type":"quantitative","scale":{"domain":[-42.62,-29.06]}},"y2":{"field":"lat1"}}},
{"data":{"name":"foothills"},"mark":{"type":"area","orient":"horizontal","color":"#D6D8CC"},
"encoding":{"y":{"field":"lat","type":"quantitative","scale":{"domain":[-42.62,-29.06]}},"x":{"field":"lonE","type":"quantitative","scale":{"domain":[-71.1,-56.9]}},"x2":{"field":"lonW"}}},
{"data":{"name":"andes"},"mark":{"type":"area","orient":"horizontal","color":"#B4B4AC"},
"encoding":{"y":{"field":"lat","type":"quantitative","scale":{"domain":[-42.62,-29.06]}},"x":{"field":"lonE","type":"quantitative","scale":{"domain":[-71.1,-56.9]}},"x2":{"field":"lonW"}}},
{"data":{"name":"ridges"},"transform":[{"window":[{"op":"row_number","as":"idx"}]}],"mark":{"type":"line","color":"#8F8F8A","strokeWidth":1},
"encoding":{"x":{"field":"lon","type":"quantitative","scale":{"domain":[-71.1,-56.9]}},"y":{"field":"lat","type":"quantitative","scale":{"domain":[-42.62,-29.06]}},"detail":{"field":"id"},"order":{"field":"idx","type":"quantitative"}}},
{"data":{"name":"roads"},"transform":[{"window":[{"op":"row_number","as":"idx"}]}],"mark":{"type":"line","color":"#F7F8F4","strokeWidth":0.9},
"encoding":{"x":{"field":"lon","type":"quantitative","scale":{"domain":[-71.1,-56.9]}},"y":{"field":"lat","type":"quantitative","scale":{"domain":[-42.62,-29.06]}},"detail":{"field":"id"},"order":{"field":"idx","type":"quantitative"}}},
{"data":{"name":"water"},"mark":{"type":"area","orient":"vertical","color":"#A6CCF8"},
"encoding":{"x":{"field":"lon","type":"quantitative","scale":{"domain":[-71.1,-56.9]}},"y":{"field":"latTop","type":"quantitative","scale":{"domain":[-42.62,-29.06]}},"y2":{"field":"latBot"},"detail":{"field":"id"}}},
{"data":{"name":"river"},"transform":[{"window":[{"op":"row_number","as":"idx"}]}],"mark":{"type":"line","color":"#6F8794","strokeWidth":1},
"encoding":{"x":{"field":"lon","type":"quantitative","scale":{"domain":[-71.1,-56.9]}},"y":{"field":"lat","type":"quantitative","scale":{"domain":[-42.62,-29.06]}},"order":{"field":"idx","type":"quantitative"}}},
{"data":{"name":"places"},"mark":{"type":"text","fontSize":5,"color":"#666"},
"encoding":{"x":{"field":"lon","type":"quantitative","scale":{"domain":[-71.1,-56.9]}},"y":{"field":"lat","type":"quantitative","scale":{"domain":[-42.62,-29.06]}},"text":{"field":"name"}}},
{"data":{"values":[{"name":"Argentina","lon":-65.11,"lat":-35.18}]},"mark":{"type":"text","fontSize":9.5,"fontWeight":"bold","color":"#333"},
"encoding":{"x":{"field":"lon","type":"quantitative","scale":{"domain":[-71.1,-56.9]}},"y":{"field":"lat","type":"quantitative","scale":{"domain":[-42.62,-29.06]}},"text":{"field":"name"}}},
{"data":{"values":[{"name":"Map data ©2017 Google","lon":-56.95,"lat":-41.55}]},"mark":{"type":"text","fontSize":4.5,"align":"right","color":"#666"},
"encoding":{"x":{"field":"lon","type":"quantitative","scale":{"domain":[-71.1,-56.9]}},"y":{"field":"lat","type":"quantitative","scale":{"domain":[-42.62,-29.06]}},"text":{"field":"name"}}},
{"data":{"name":"keybox"},"mark":{"type":"rect","color":"#FFFFFF"},
"encoding":{"x":{"field":"lon0","type":"quantitative","scale":{"domain":[-71.1,-56.9]}},"x2":{"field":"lon1"},"y":{"field":"lat0","type":"quantitative","scale":{"domain":[-42.62,-29.06]}},"y2":{"field":"lat1"}}},
{"data":{"name":"sites"},"mark":{"type":"circle","size":66,"opacity":1},
"encoding":{"x":{"field":"lon","type":"quantitative","scale":{"domain":[-71.1,-56.9]}},"y":{"field":"lat","type":"quantitative","scale":{"domain":[-42.62,-29.06]}},"color":{"field":"group","type":"nominal","scale":{"domain":["Sub-group 1","Sub-group 2","H. annuus only"],"range":["#FF2A2A","#006400","#000000"]},"legend":null}}},
{"data":{"name":"keypts"},"mark":{"type":"circle","size":42,"opacity":1},
"encoding":{"x":{"field":"lon","type":"quantitative","scale":{"domain":[-71.1,-56.9]}},"y":{"field":"lat","type":"quantitative","scale":{"domain":[-42.62,-29.06]}},"color":{"field":"group","type":"nominal","scale":{"domain":["Sub-group 1","Sub-group 2","H. annuus only"],"range":["#FF2A2A","#006400","#000000"]},"legend":null}}},
{"data":{"values":[{"label":"H. petiolaris","lon":-70.64,"lat":-39.11}]},"mark":{"type":"text","align":"left","fontSize":11.5,"fontStyle":"italic","color":"#111"},
"encoding":{"x":{"field":"lon","type":"quantitative","scale":{"domain":[-71.1,-56.9]}},"y":{"field":"lat","type":"quantitative","scale":{"domain":[-42.62,-29.06]}},"text":{"field":"label"}}},
{"data":{"values":[{"label":"subgroup","lon":-66.55,"lat":-39.11}]},"mark":{"type":"text","align":"left","fontSize":11.5,"color":"#111"},
"encoding":{"x":{"field":"lon","type":"quantitative","scale":{"domain":[-71.1,-56.9]}},"y":{"field":"lat","type":"quantitative","scale":{"domain":[-42.62,-29.06]}},"text":{"field":"label"}}},
{"data":{"name":"keytext"},"mark":{"type":"text","align":"left","fontSize":10,"color":"#111"},
"encoding":{"x":{"field":"lon","type":"quantitative","scale":{"domain":[-71.1,-56.9]}},"y":{"field":"lat","type":"quantitative","scale":{"domain":[-42.62,-29.06]}},"text":{"field":"label"}}},
{"data":{"name":"keyitalic"},"mark":{"type":"text","align":"left","fontSize":10,"fontStyle":"italic","color":"#111"},
"encoding":{"x":{"field":"lon","type":"quantitative","scale":{"domain":[-71.1,-56.9]}},"y":{"field":"lat","type":"quantitative","scale":{"domain":[-42.62,-29.06]}},"text":{"field":"label"}}}
]}
]}
]}
